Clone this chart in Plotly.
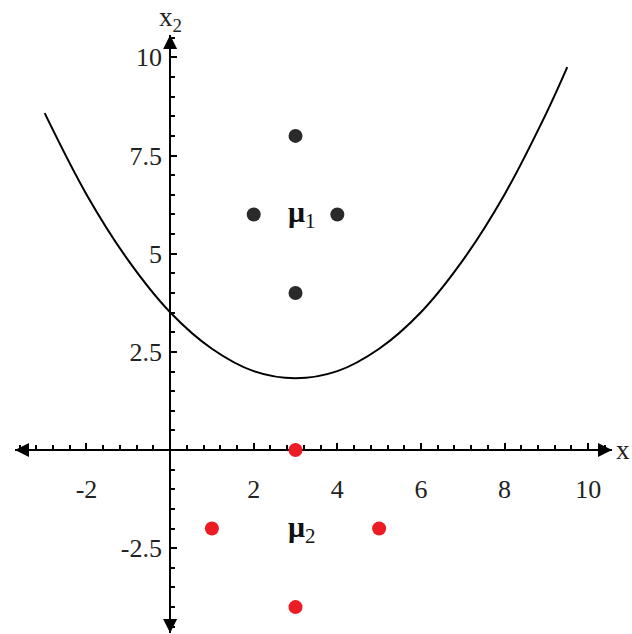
import plotly.graph_objects as go

# Class samples
class1_x = [3, 2, 4, 3]
class1_y = [8, 6, 6, 4]
class2_x = [3, 1, 5, 3]
class2_y = [0, -2, -2, -4]

# Decision boundary between the two classes, sampled along x1
boundary_x = [-3, -2, -1, 0, 1, 2, 3, 4, 5, 6, 7, 8, 9, 9.5]
boundary_y = [8.58, 6.51, 4.83, 3.51, 2.58, 2.01, 1.83, 2.01, 2.58, 3.51, 4.83, 6.51, 8.58, 9.75]

# Axis extents and tick labels
x_range = [-3.71, 10.57]
y_range = [-4.66, 10.57]
x_tickvals = [-2, 2, 4, 6, 8, 10]
x_ticktext = ["-2", "2", "4", "6", "8", "10"]
y_tickvals = [-2.5, 2.5, 5, 7.5, 10]
y_ticktext = ["-2.5", "2.5", "5", "7.5", "10"]

W, H = 632, 634
x_dom = [15 / W, 612 / W]
y_dom = [1 - 633 / H, 1 - 35 / H]

def paper_x(v):
    return x_dom[0] + (v - x_range[0]) / (x_range[1] - x_range[0]) * (x_dom[1] - x_dom[0])

def paper_y(v):
    return y_dom[0] + (v - y_range[0]) / (y_range[1] - y_range[0]) * (y_dom[1] - y_dom[0])

serif = "Liberation Serif"

fig = go.Figure()
fig.add_trace(go.Scatter(x=boundary_x, y=boundary_y, mode="lines",
                         line=dict(color="black", width=2, shape="spline", smoothing=1.0),
                         hoverinfo="skip"))
fig.add_trace(go.Scatter(x=class1_x, y=class1_y, mode="markers",
                         marker=dict(color="#2a2a2a", size=14)))
fig.add_trace(go.Scatter(x=class2_x, y=class2_y, mode="markers",
                         marker=dict(color="#ec1c24", size=14)))

# Arrowheads at both ends of each axis (arrow symbols have their tip on the point)
fig.add_trace(go.Scatter(
    x=[x_range[1], x_range[0], 0, 0],
    y=[0, 0, y_range[1], y_range[0]],
    mode="markers", cliponaxis=False, hoverinfo="skip",
    marker=dict(symbol=["arrow-right", "arrow-left", "arrow-up", "arrow-down"],
                size=14, color="black", line=dict(width=0)),
))

tickfont = dict(family=serif, size=26, color="#222")
fig.update_layout(
    width=W, height=H, autosize=False,
    margin=dict(l=0, r=0, t=0, b=0),
    paper_bgcolor="white", plot_bgcolor="white",
    showlegend=False,
    xaxis=dict(domain=x_dom, range=x_range, anchor="free", position=paper_y(0),
               showgrid=False, zeroline=False, showline=True, linecolor="black", linewidth=2,
               layer="below traces",
               tickmode="array", tickvals=x_tickvals, ticktext=x_ticktext,
               ticks="inside", ticklen=6, tickwidth=1.5, tickcolor="black",
               minor=dict(dtick=0.4, tick0=0, ticks="inside", ticklen=4, tickwidth=1.5, tickcolor="black"),
               tickfont=tickfont, ticklabelstandoff=16),
    yaxis=dict(domain=y_dom, range=y_range, anchor="free", position=paper_x(0),
               showgrid=False, zeroline=False, showline=True, linecolor="black", linewidth=2,
               layer="below traces",
               tickmode="array", tickvals=y_tickvals, ticktext=y_ticktext,
               ticks="inside", ticklen=6, tickwidth=1.5, tickcolor="black",
               minor=dict(dtick=0.5, tick0=0, ticks="inside", ticklen=4, tickwidth=1.5, tickcolor="black"),
               tickfont=tickfont, ticklabelstandoff=2),
)

# Axis titles
fig.add_annotation(x=1.0, y=paper_y(0), xref="paper", yref="paper", xanchor="right", yanchor="middle",
                   text="x", showarrow=False, font=dict(family=serif, size=27, color="#222"))
fig.add_annotation(x=paper_x(0), y=1.0, xref="paper", yref="paper", xanchor="center", yanchor="top",
                   text="x<sub>2</sub>", showarrow=False, font=dict(family=serif, size=27, color="#222"))

# Class mean labels
mu_font = dict(family=serif, size=30, color="#111")
fig.add_annotation(x=3, y=6, text="<b>μ</b><sub>1</sub>", showarrow=False, xanchor="center",
                   yanchor="middle", xshift=6, font=mu_font)
fig.add_annotation(x=3, y=-2, text="<b>μ</b><sub>2</sub>", showarrow=False, xanchor="center",
                   yanchor="middle", xshift=6, font=mu_font)

fig.write_html("out.html")
